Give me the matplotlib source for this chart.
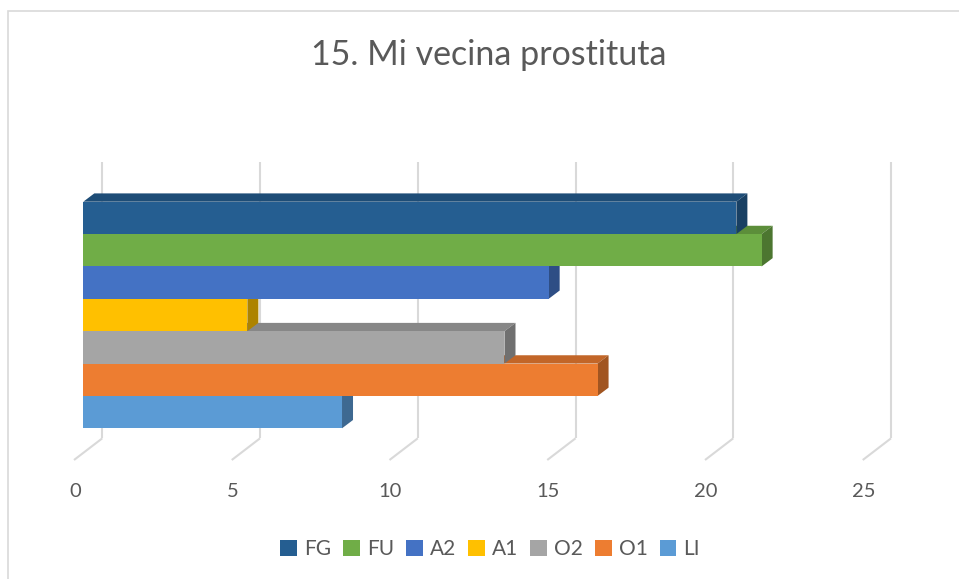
import matplotlib
matplotlib.use("Agg")
import matplotlib.pyplot as plt
from matplotlib.patches import Polygon, Rectangle, Patch
import numpy as np

plt.rcParams['font.family'] = ['Lato', 'DejaVu Sans']

# ---- data ----
title = "15. Mi vecina prostituta"
series = ["FG", "FU", "A2", "A1", "O2", "O1", "LI"]
values = [20.7, 21.5, 14.75, 5.2, 13.35, 16.3, 8.2]
colors = ["#255E91", "#70AD47", "#4472C4", "#FFC000", "#A5A5A5", "#ED7D31", "#5B9BD5"]
ticks = [0, 5, 10, 15, 20, 25]
tick_labels = ["0", "5", "10", "15", "20", "25"]

W, H = 959, 579
fig = plt.figure(figsize=(W / 100, H / 100), dpi=100)
fig.patch.set_facecolor("white")

# layout (pixels)
x0_px = 83.3
ppu = 31.55
bar_bot_img = 428.3
bar_top_img = 201.7
n = len(series)
ppy = (bar_bot_img - bar_top_img) / n

ax = fig.add_axes([x0_px / W, (H - bar_bot_img) / H, 25 * ppu / W, (bar_bot_img - bar_top_img) / H])
ax.set_xlim(0, 25)
ax.set_ylim(-0.5, n - 0.5)
ax.axis("off")

def ydata(img_y):
    return -0.5 + (bar_bot_img - img_y) / ppy

def xoff(px):
    return px / ppu

# back wall and floor gridlines
wx = xoff(19.0)
yw0, yw1 = ydata(438.3), ydata(161.7)
fx = xoff(74 - x0_px)
yf = ydata(460)
grid_c = "#D9D9D9"
for t in ticks:
    ax.plot([t + wx, t + wx], [yw0, yw1], color=grid_c, lw=1.5, clip_on=False, zorder=0,
            solid_capstyle="butt")
    ax.plot([t + wx, t + fx], [yw0, yf], color=grid_c, lw=1.5, clip_on=False, zorder=0,
            solid_capstyle="butt")

# tick labels
ty = ydata(491.7)
for t, lab in zip(ticks, tick_labels):
    ax.text(t + xoff(75 - x0_px), ty, lab, ha="center", va="center", fontsize=14.5,
            color="#595959", clip_on=False)

# bars (bottom to top; FG on top)
ddx = xoff(11.0)
ddy = 8.3 / ppy

def shade(c, f):
    rgb = np.array(matplotlib.colors.to_rgb(c))
    return tuple(rgb * f)

order = list(range(n))[::-1]  # index in series; position pos = n-1-i
for i in order:
    pos = n - 1 - i
    v = values[i]
    c = colors[i]
    z = 2 + pos * 3
    yb, yt = pos - 0.5, pos + 0.5
    top = Polygon([(0, yt), (v, yt), (v + ddx, yt + ddy), (ddx, yt + ddy)],
                  closed=True, facecolor=shade(c, 0.82), edgecolor="none", zorder=z, clip_on=False)
    side = Polygon([(v, yb), (v, yt), (v + ddx, yt + ddy), (v + ddx, yb + ddy)],
                   closed=True, facecolor=shade(c, 0.68), edgecolor="none", zorder=z + 1, clip_on=False)
    ax.add_patch(top)
    ax.add_patch(side)
    ax.barh(pos, v, height=1.0, color=c, edgecolor="none", zorder=z + 2, clip_on=False)

# title
fig.text(488.4 / W, 1 - 55 / H, title, ha="center", va="center", fontsize=24.5, color="#595959")

# legend
handles = [Patch(facecolor=c, edgecolor="none") for c in colors]
fig.legend(handles, series, loc="center", bbox_to_anchor=(490 / W, 1 - 549 / H), ncol=n,
           frameon=False, fontsize=15, handlelength=0.8, handleheight=0.8,
           handletextpad=0.33, columnspacing=0.59, labelcolor="#595959")

# chart border
fig.add_artist(Rectangle((8 / W, -0.2), 1.5, 1 - 11.5 / H + 0.2, transform=fig.transFigure,
                         fill=False, edgecolor="#D9D9D9", lw=1.2))

fig.savefig("out.png", dpi=100)
